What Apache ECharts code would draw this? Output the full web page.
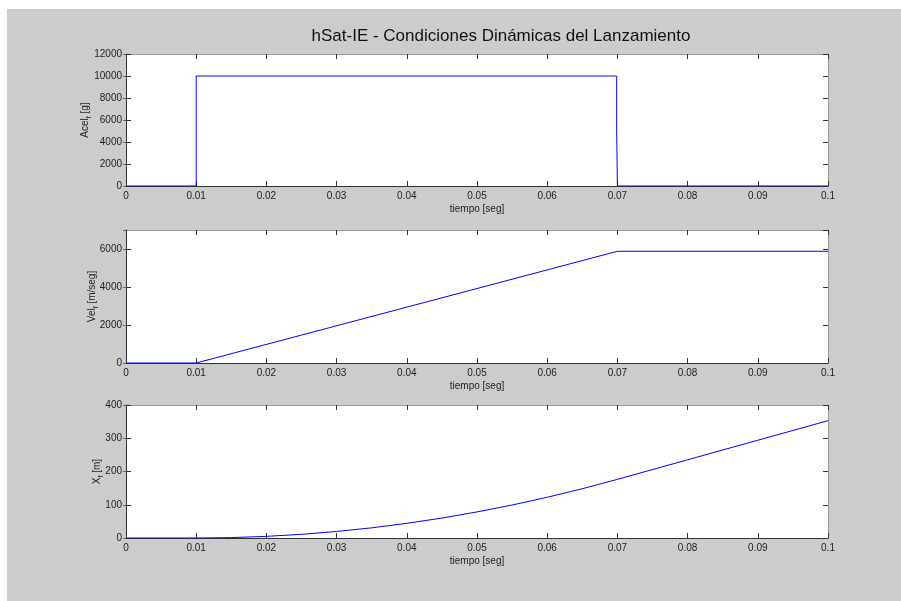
<!DOCTYPE html>
<html><head><meta charset="utf-8">
<script src="https://cdn.jsdelivr.net/npm/echarts@6/dist/echarts.min.js"></script>
<style>html,body{margin:0;padding:0;background:#fff;}#c{width:901px;height:601px;}</style>
</head><body><div id="c"></div>
<script>
// ---- data ----
const titleText = 'hSat-IE - Condiciones Dinámicas del Lanzamiento';
const xName = 'tiempo [seg]';

const tAcel = [0, 0.01, 0.01, 0.0699, 0.0699, 0.07, 0.07, 0.1];
const acel  = [0, 0, 10000, 10000, 5000, 5000, 0, 0];

const tVel = [0, 0.01, 0.07, 0.1];
const vel  = [0, 0, 5880, 5880];

const tPos = [0, 0.01, 0.015, 0.02, 0.025, 0.03, 0.035, 0.04, 0.045, 0.05, 0.055, 0.06, 0.065, 0.07, 0.08, 0.09, 0.1];
const pos  = [0, 0, 1.2, 4.9, 11, 19.6, 30.6, 44.1, 60, 78.4, 99.2, 122.5, 148.2, 176.4, 235.2, 294, 352.8];

const xMin = 0, xMax = 0.1, xStep = 0.01;
const yRanges = [[0, 12000, 2000], [0, 7000, 2000], [0, 400, 100]];
const yNames = [['Acel', 'f', ' [g]'], ['Vel', 'f', ' [m/seg]'], ['X', 'f', ' [m]']];

// ---- layout ----
const grids = [
  {left: 126, top: 54, width: 702, height: 132},
  {left: 126, top: 230, width: 702, height: 133},
  {left: 126, top: 405, width: 702, height: 133}
];
const nameGaps = [33, 26, 21];
const font = '"Liberation Sans", Arial, Helvetica, sans-serif';
const dark = '#333', light = '#999';

const series = [[tAcel, acel], [tVel, vel], [tPos, pos]];

const xAxis = [], yAxis = [], ser = [];
grids.forEach((g, i) => {
  const [ymin, ymax, ystep] = yRanges[i];
  xAxis.push({
    type: 'value', gridIndex: i, position: 'bottom', min: xMin, max: xMax, interval: xStep,
    axisLine: {onZero: false, lineStyle: {color: dark, width: 1}},
    axisTick: {inside: true, length: 5, lineStyle: {color: dark}},
    axisLabel: {margin: 5, color: '#222', fontSize: 10, fontFamily: font,
      formatter: v => String(Math.round(v * 100) / 100)},
    splitLine: {show: false},
    name: xName, nameLocation: 'middle', nameGap: 18, nameMoveOverlap: false,
    nameTextStyle: {color: '#222', fontSize: 10, fontFamily: font}
  });
  xAxis.push({
    type: 'value', gridIndex: i, position: 'top', min: xMin, max: xMax, interval: xStep,
    axisLine: {onZero: false, lineStyle: {color: light, width: 1}},
    axisTick: {inside: true, length: 5, lineStyle: {color: dark}},
    axisLabel: {show: false}, splitLine: {show: false}
  });
  const nm = yNames[i];
  yAxis.push({
    type: 'value', gridIndex: i, position: 'left', min: ymin, max: ymax, interval: ystep,
    axisLine: {show: true, onZero: false, lineStyle: {color: dark, width: 1}},
    axisTick: {show: true, inside: true, length: 5, lineStyle: {color: dark}},
    axisLabel: {margin: 4, color: '#222', fontSize: 10, fontFamily: font,
      showMaxLabel: (ymax % ystep === 0), formatter: v => String(v)},
    splitLine: {show: false},
    name: '{a|' + nm[0] + '}{s|' + nm[1] + '}{a|' + nm[2] + '}',
    nameLocation: 'middle', nameGap: nameGaps[i], nameRotate: 90, nameMoveOverlap: false,
    nameTextStyle: {
      rich: {
        a: {fontSize: 10, fontFamily: font, color: '#222', lineHeight: 16, verticalAlign: 'middle'},
        s: {fontSize: 7, fontFamily: font, color: '#222', lineHeight: 16, verticalAlign: 'bottom'}
      }
    }
  });
  yAxis.push({
    type: 'value', gridIndex: i, position: 'left', min: ymin, max: ymax, interval: ystep,
    axisLine: {show: false}, axisLabel: {show: false}, splitLine: {show: false},
    axisTick: {show: true, inside: false, length: 3, lineStyle: {color: '#666'}}
  });
  yAxis.push({
    type: 'value', gridIndex: i, position: 'right', min: ymin, max: ymax, interval: ystep,
    axisLine: {show: true, onZero: false, lineStyle: {color: light, width: 1}},
    axisTick: {show: true, inside: true, length: 5, lineStyle: {color: dark}},
    axisLabel: {show: false}, splitLine: {show: false}
  });
  const [ts, vs] = series[i];
  ser.push({
    type: 'line', xAxisIndex: i * 2, yAxisIndex: i * 3,
    data: ts.map((t, k) => [t, vs[k]]),
    showSymbol: false, symbol: 'none', animation: false,
    lineStyle: {color: '#0000ff', width: 1},
    z: 5
  });
});

const chart = echarts.init(document.getElementById('c'), null, {renderer: 'canvas'});
chart.setOption({
  animation: false,
  backgroundColor: '#ffffff',
  graphic: {elements: [{type: 'rect', z: -10, silent: true,
    shape: {x: 7, y: 9, width: 894, height: 592}, style: {fill: '#cccccc'}}]},
  title: {text: titleText, left: 496, top: 23, textAlign: 'center',
    textStyle: {fontSize: 17, fontWeight: 'normal', color: '#111', fontFamily: font}},
  grid: grids.map(g => Object.assign({show: true, backgroundColor: '#ffffff', borderWidth: 0}, g)),
  xAxis, yAxis, series: ser
});
</script></body></html>
